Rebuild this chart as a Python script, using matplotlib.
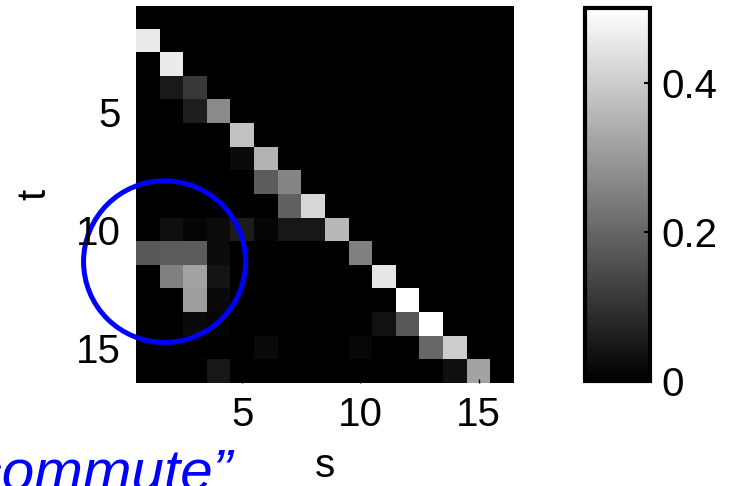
import numpy as np
import matplotlib
matplotlib.use('Agg')
from matplotlib import pyplot as plt
from matplotlib.patches import Circle

plt.rcParams['font.family'] = ['Liberation Sans', 'DejaVu Sans']

n = 16
# nonzero entries of the weight matrix: (t, s, value), 1-based
entries = [
    (2, 1, 0.46),
    (3, 2, 0.46),
    (4, 2, 0.05), (4, 3, 0.11),
    (5, 3, 0.06), (5, 4, 0.27),
    (6, 5, 0.38),
    (7, 5, 0.02), (7, 6, 0.35),
    (8, 6, 0.18), (8, 7, 0.26),
    (9, 7, 0.19), (9, 8, 0.42),
    (10, 2, 0.03), (10, 3, 0.01), (10, 4, 0.025), (10, 5, 0.055), (10, 6, 0.01),
    (10, 7, 0.045), (10, 8, 0.045), (10, 9, 0.36),
    (11, 1, 0.17), (11, 2, 0.18), (11, 3, 0.18), (11, 4, 0.025), (11, 10, 0.25),
    (12, 2, 0.25), (12, 3, 0.32), (12, 4, 0.04), (12, 11, 0.45),
    (13, 3, 0.31), (13, 4, 0.02), (13, 12, 0.5),
    (14, 3, 0.02), (14, 4, 0.01), (14, 11, 0.035), (14, 12, 0.17), (14, 13, 0.5),
    (15, 6, 0.02), (15, 10, 0.015), (15, 13, 0.2), (15, 14, 0.4),
    (16, 4, 0.045), (16, 14, 0.03), (16, 15, 0.32),
]
ticks = [5, 10, 15]
cbar_ticks = [0, 0.2, 0.4]
clim = (0, 0.5)

# ring drawn around the off-diagonal block
ring_center = (1.71, 11.35)
ring_radius = 3.43

W = np.zeros((n, n))
for t, s, v in entries:
    W[t - 1, s - 1] = v

fig = plt.figure(figsize=(7.29, 4.86), dpi=100)
fw, fh = 729, 486

ax = fig.add_axes([136 / fw, (fh - 383) / fh, 378 / fw, 377 / fh])
im = ax.imshow(W, cmap='gray', vmin=clim[0], vmax=clim[1],
               extent=(0.5, n + 0.5, n + 0.5, 0.5), interpolation='nearest',
               aspect='auto')
ax.set_xticks(ticks)
ax.set_yticks(ticks)
ax.tick_params(direction='in', length=3, width=1, color='black',
               labelsize=29, pad=11)
ax.tick_params(axis='x', pad=9)
for sp in ax.spines.values():
    sp.set_visible(False)
ax.set_xlabel('s', fontsize=29, labelpad=10)
ax.set_ylabel('t', fontsize=29, labelpad=16)

ring = Circle(ring_center, ring_radius, fill=False, edgecolor='#0000ff',
              linewidth=3.6, clip_on=False)
ax.add_patch(ring)

cax = fig.add_axes([585 / fw, (fh - 381) / fh, 65 / fw, 373 / fh])
cb = fig.colorbar(im, cax=cax, ticks=cbar_ticks)
cb.ax.set_yticklabels(['0', '0.2', '0.4'])
cb.outline.set_linewidth(3)
cb.ax.tick_params(direction='in', length=4, width=1.5, labelsize=29, pad=8)

fig.text(233 / fw, (fh - 489) / fh, '\u201ccommute\u201d', fontsize=42,
         style='italic', color='#0000ff', ha='right', va='baseline')

fig.savefig('out.png', dpi=100)
